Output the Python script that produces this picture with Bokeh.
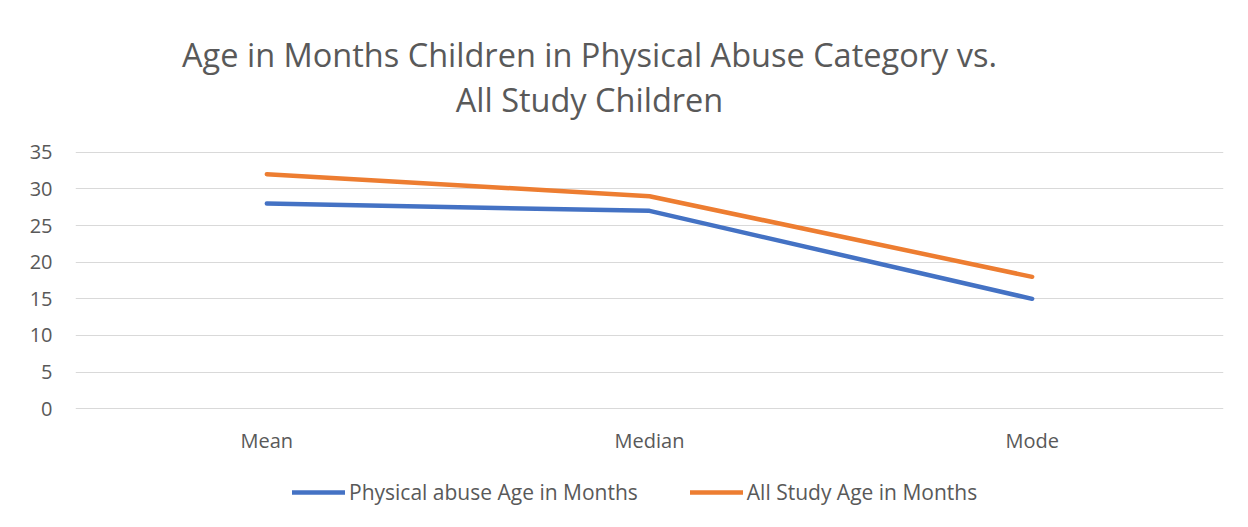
from bokeh.plotting import figure
from bokeh.layouts import column
from bokeh.models import FactorRange, Range1d, FixedTicker, Legend, LegendItem, Label
from bokeh.embed import file_html
from bokeh.resources import INLINE

categories = ["Mean", "Median", "Mode"]
physical_abuse = [28, 27, 15]
all_study = [32, 29, 18]
y_ticks = [0, 5, 10, 15, 20, 25, 30, 35]
title_lines = ["Age in Months Children in Physical Abuse Category vs.", "All Study Children"]
series_names = ["Physical abuse Age in Months", "All Study Age in Months"]

FONT = "Open Sans"
TXT = "#595959"
BLUE = "#4472C4"
ORANGE = "#ED7D31"
W = 1240
NAN = float("nan")

# ---- title strip (frame aligned with the chart frame: 75..1223 px) ----
t = figure(width=W, height=130, x_range=Range1d(75, 1223), y_range=Range1d(0, 130),
           x_axis_type=None, y_axis_type=None, output_backend="svg", toolbar_location=None,
           min_border=0)
t.outline_line_color = None
t.xgrid.visible = False
t.ygrid.visible = False
for txt, base in zip(title_lines, [76, 31]):
    t.add_layout(Label(x=589, y=base, text=txt, text_align="center", text_baseline="alphabetic",
                       text_font=FONT, text_font_size="32.5px", text_color=TXT))

# ---- main chart ----
p = figure(width=W, height=340, x_range=FactorRange(*categories, range_padding=0),
           y_range=Range1d(-0.1, 35.1), output_backend="svg", toolbar_location=None,
           min_border_left=75, min_border_right=17, min_border_top=21, min_border_bottom=61)
p.outline_line_color = None

r1 = p.line(categories, physical_abuse, line_color=BLUE, line_width=4.5, line_cap="round", line_join="round")
r2 = p.line(categories, all_study, line_color=ORANGE, line_width=4.5, line_cap="round", line_join="round")

p.yaxis.ticker = FixedTicker(ticks=y_ticks)
p.yaxis.axis_line_color = None
p.yaxis.major_tick_line_color = None
p.yaxis.minor_tick_line_color = None
p.yaxis.major_tick_out = 0
p.yaxis.major_label_standoff = 23
p.yaxis.major_label_text_font = FONT
p.yaxis.major_label_text_font_size = "20px"
p.yaxis.major_label_text_color = TXT

p.xaxis.axis_line_color = None
p.xaxis.major_tick_line_color = None
p.xaxis.major_label_standoff = 11
p.xaxis.major_label_text_font = FONT
p.xaxis.major_label_text_font_size = "20px"
p.xaxis.major_label_text_color = TXT

p.xgrid.grid_line_color = None
p.ygrid.grid_line_color = "#d9d9d9"
p.ygrid.grid_line_width = 1.2

# ---- legend strip ----
lg = figure(width=W, height=49, x_range=Range1d(0, 1), y_range=Range1d(0, 1),
            x_axis_type=None, y_axis_type=None, output_backend="svg", toolbar_location=None,
            min_border=0)
lg.outline_line_color = None
lg.xgrid.visible = False
lg.ygrid.visible = False
d1 = lg.line(x=[NAN], y=[NAN], line_color=BLUE, line_width=4.5, line_cap="round")
d2 = lg.line(x=[NAN], y=[NAN], line_color=ORANGE, line_width=4.5, line_cap="round")
legend = Legend(items=[LegendItem(label=series_names[0], renderers=[d1]),
                       LegendItem(label=series_names[1], renderers=[d2])],
                orientation="horizontal", location=(217, 13),
                glyph_width=53, glyph_height=20, label_standoff=4, spacing=52,
                padding=0, margin=0, border_line_color=None, background_fill_alpha=0,
                label_text_font=FONT, label_text_font_size="21px", label_text_color=TXT)
lg.add_layout(legend, "center")

open("out.html", "w").write(file_html(column(t, p, lg, spacing=0), INLINE))
